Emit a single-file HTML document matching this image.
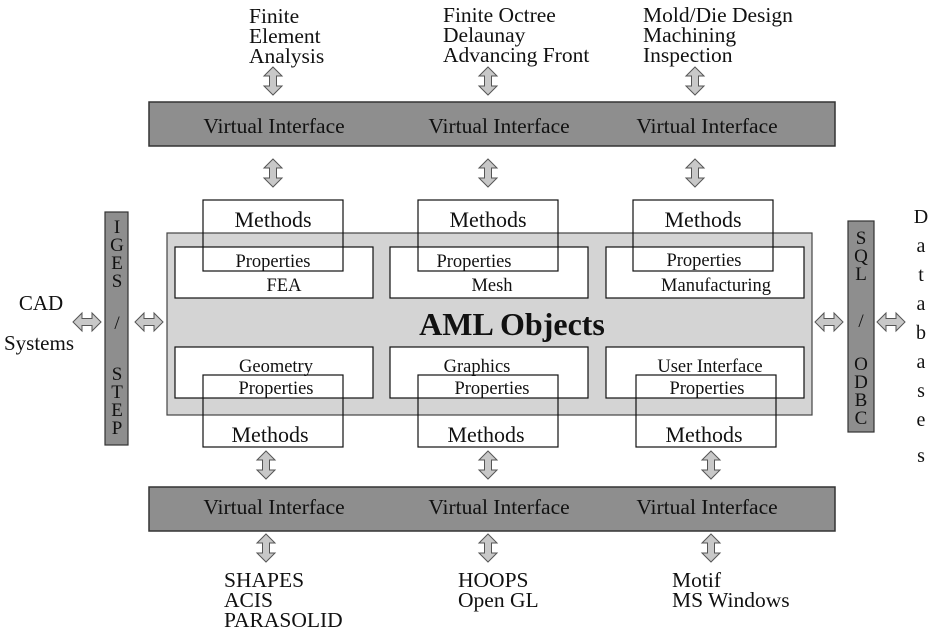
<!DOCTYPE html>
<html><head><meta charset="utf-8"><style>
body{margin:0;background:#fff}
svg{display:block}
text{font-family:"Liberation Serif",serif;fill:#111}
</style></head><body>
<svg width="935" height="631" viewBox="0 0 935 631" xmlns="http://www.w3.org/2000/svg">
<defs>
<path id="va" d="M0,-14 L9,-5 L3.5,-5 L3.5,5 L9,5 L0,14 L-9,5 L-3.5,5 L-3.5,-5 L-9,-5 Z" fill="#c8c8c8" stroke="#555" stroke-width="1"/>
<path id="ha" d="M-14,0 L-5,-9 L-5,-3.5 L5,-3.5 L5,-9 L14,0 L5,9 L5,3.5 L-5,3.5 L-5,9 Z" fill="#c8c8c8" stroke="#555" stroke-width="1"/>
</defs>
<g font-size="21.5">
<text x="249" y="23">Finite</text><text x="249" y="43">Element</text><text x="249" y="63">Analysis</text>
<text x="443" y="22">Finite Octree</text><text x="443" y="42">Delaunay</text><text x="443" y="62">Advancing Front</text>
<text x="643" y="22">Mold/Die Design</text><text x="643" y="42">Machining</text><text x="643" y="62">Inspection</text>
</g>
<rect x="149" y="102" width="686" height="44" fill="#8e8e8e" stroke="#333" stroke-width="1.5"/>
<rect x="149" y="487" width="686" height="44" fill="#8e8e8e" stroke="#333" stroke-width="1.5"/>
<g font-size="21.5" text-anchor="middle">
<text x="274" y="133">Virtual Interface</text><text x="499" y="133">Virtual Interface</text><text x="707" y="133">Virtual Interface</text>
<text x="274" y="514">Virtual Interface</text><text x="499" y="514">Virtual Interface</text><text x="707" y="514">Virtual Interface</text>
</g>
<use href="#va" x="273" y="81"/><use href="#va" x="488" y="81"/><use href="#va" x="695" y="81"/>
<use href="#va" x="273" y="173"/><use href="#va" x="488" y="173"/><use href="#va" x="695" y="173"/>
<use href="#va" x="266" y="465"/><use href="#va" x="488" y="465"/><use href="#va" x="711" y="465"/>
<use href="#va" x="266" y="548"/><use href="#va" x="488" y="548"/><use href="#va" x="711" y="548"/>
<rect x="167" y="233" width="645" height="182" fill="#d4d4d4" stroke="#444" stroke-width="1.2"/>
<g fill="#fff" stroke="#111" stroke-width="1.2">
<rect x="175" y="247" width="198" height="51"/><rect x="390" y="247" width="198" height="51"/><rect x="606" y="247" width="198" height="51"/>
<rect x="175" y="347" width="198" height="51"/><rect x="390" y="347" width="198" height="51"/><rect x="606" y="347" width="198" height="51"/>
</g>
<g fill="none" stroke="#111" stroke-width="1.2">
<rect x="203" y="200" width="140" height="71"/><rect x="418" y="200" width="140" height="71"/><rect x="633" y="200" width="140" height="71"/>
<rect x="203" y="375" width="140" height="72"/><rect x="418" y="375" width="140" height="72"/><rect x="636" y="375" width="140" height="72"/>
</g>
<g text-anchor="middle">
<g font-size="22"><text x="273" y="227">Methods</text><text x="488" y="227">Methods</text><text x="703" y="227">Methods</text>
<text x="270" y="442">Methods</text><text x="486" y="442">Methods</text><text x="704" y="442">Methods</text></g>
<g font-size="18.5"><text x="273" y="267">Properties</text><text x="474" y="267">Properties</text><text x="704" y="266">Properties</text>
<text x="284" y="291">FEA</text><text x="492" y="291">Mesh</text><text x="716" y="291">Manufacturing</text>
<text x="276" y="372">Geometry</text><text x="477" y="372">Graphics</text><text x="710" y="372">User Interface</text>
<text x="276" y="394">Properties</text><text x="492" y="394">Properties</text><text x="707" y="394">Properties</text></g>
<text x="512" y="335" font-size="32" font-weight="bold">AML Objects</text>
</g>
<rect x="105" y="212" width="23" height="233" fill="#8e8e8e" stroke="#333" stroke-width="1.2"/>
<rect x="848" y="221" width="26" height="211" fill="#8e8e8e" stroke="#333" stroke-width="1.2"/>
<g font-size="19" text-anchor="middle">
<text x="117" y="233">I</text><text x="117" y="251">G</text><text x="117" y="269">E</text><text x="117" y="287">S</text>
<text x="117" y="329">/</text>
<text x="117" y="380">S</text><text x="117" y="398">T</text><text x="117" y="416">E</text><text x="117" y="434">P</text>
<text x="861" y="244">S</text><text x="861" y="262">Q</text><text x="861" y="280">L</text>
<text x="861" y="327">/</text>
<text x="861" y="370">O</text><text x="861" y="388">D</text><text x="861" y="406">B</text><text x="861" y="424">C</text>
</g>
<use href="#ha" x="87" y="322"/><use href="#ha" x="149" y="322"/><use href="#ha" x="829" y="322"/><use href="#ha" x="891" y="322"/>
<g font-size="21" text-anchor="middle">
<text x="41" y="310">CAD</text><text x="39" y="350">Systems</text>
<g font-size="20"><text x="921" y="223">D</text><text x="921" y="252">a</text><text x="921" y="281">t</text><text x="921" y="310">a</text><text x="921" y="339">b</text><text x="921" y="368">a</text><text x="921" y="397">s</text><text x="921" y="426">e</text><text x="921" y="462">s</text></g>
</g>
<g font-size="21.5">
<text x="224" y="587">SHAPES</text><text x="224" y="607">ACIS</text><text x="224" y="627">PARASOLID</text>
<text x="458" y="587">HOOPS</text><text x="458" y="607">Open GL</text>
<text x="672" y="587">Motif</text><text x="672" y="607">MS Windows</text>
</g>
</svg>
</body></html>
